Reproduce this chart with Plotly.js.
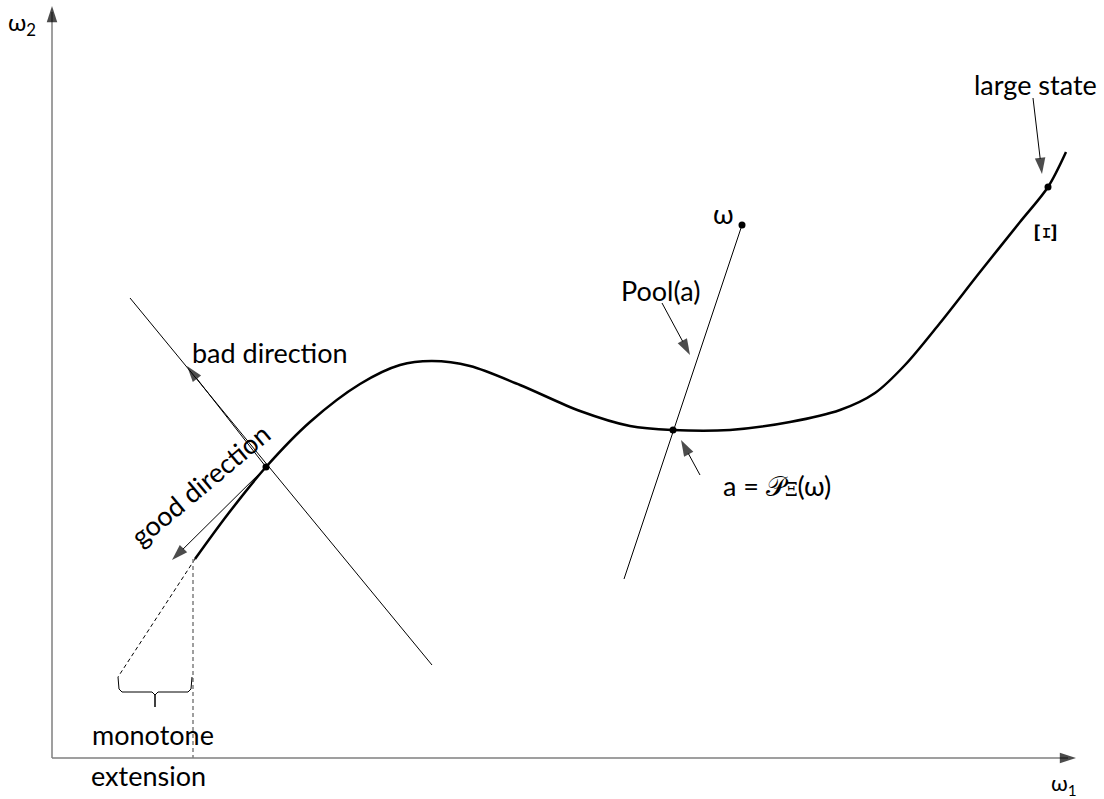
<!DOCTYPE html>
<html><head><meta charset="utf-8">
<script src="https://cdn.plot.ly/plotly-3.0.1.min.js"></script>
<style>html,body{margin:0;padding:0;background:#fff}#plot{width:1104px;height:799px}</style>
</head><body><div id="plot"></div>
<script>
// Diagram geometry (coordinates in the diagram's own frame, 0..1104 x 0..799, y downward)
const curveX = [195,228,266,310,360,400,432,470,520,580,630,672,730,790,840,875,905,940,980,1020,1048,1066];
const curveY = [559,514,467,422,384,365,361,366,385,411,426,430,430,422,410,393,365,323,272,222,187,152];
const normalX = [130,432];
const normalY = [298,665];
const poolX = [624,742];
const poolY = [579,225];
const extX = [195,118];
const extY = [559,677];
const dropX = [193,193];
const dropY = [559,758];
const braceX = [118,119,122,152,155,158,188,191,192];
const braceY = [677,689,692,692,695,692,692,689,677];
const braceTickX = [155,155];
const braceTickY = [695,707];
const axisYX = [52,52];
const axisYY = [758,12];
const axisXX = [52,1068];
const axisXY = [758,758];
const dotX = [266,673,742,1048];
const dotY = [467,430,225,187];

const labels = [
  {t:'ω<sub>2</sub>', x:22, y:23, s:24},
  {t:'ω<sub>1</sub>', x:1064, y:784, s:22},
  {t:'large state', x:1035, y:84, s:27},
  {t:'ω', x:723, y:213, s:27},
  {t:'Pool(a)', x:660, y:290, s:27},
  {t:'bad direction', x:270, y:352, s:27},
  {t:'monotone', x:153, y:734, s:27},
  {t:'extension', x:148, y:775, s:27},
  {t:'a = <span style="font-family:DejaVu Serif">𝒫</span><span style="font-family:DejaVu Serif;font-size:18px">Ξ</span>(ω)', x:777, y:485, s:27}
];
// arrows: [tailX, tailY, tipX, tipY]
const arrows = [
  [266,467,187,366],
  [266,467,172,560],
  [662,303,690,355],
  [700,475,681,440],
  [1033,98,1042,174],
  [52,40,52,6],
  [1045,758,1076,758]
];

const thin = {color:'#000', width:1};
const traces = [
  {x:axisYX, y:axisYY, mode:'lines', line:{color:'#7f7f7f', width:1.5}},
  {x:axisXX, y:axisXY, mode:'lines', line:{color:'#7f7f7f', width:1.5}},
  {x:normalX, y:normalY, mode:'lines', line:thin},
  {x:poolX, y:poolY, mode:'lines', line:thin},
  {x:extX, y:extY, mode:'lines', line:{color:'#000', width:1, dash:'4px,3px'}},
  {x:dropX, y:dropY, mode:'lines', line:{color:'#7f7f7f', width:1.5, dash:'4px,3px'}},
  {x:braceX, y:braceY, mode:'lines', line:{color:'#000', width:1}},
  {x:braceTickX, y:braceTickY, mode:'lines', line:{color:'#000', width:1.5}},
  {x:curveX, y:curveY, mode:'lines', line:{color:'#000', width:2.5, shape:'spline', smoothing:0.9}},
  {x:dotX, y:dotY, mode:'markers', marker:{color:'#000', size:7}}
];
arrows.forEach((a, i) => {
  const isAxis = i >= 5;
  traces.push({
    x:[a[0], a[2]], y:[a[1], a[3]], mode:'lines+markers',
    line:{color: isAxis ? 'rgba(0,0,0,0)' : '#000', width:1},
    marker:{symbol:['circle','arrow'], size:[0, 17], color:'#000', angleref:'previous', line:{width:0}}
  });
});

const annotations = labels.map(l => ({
  x:l.x, y:l.y, xref:'x', yref:'y', text:l.t, showarrow:false,
  font:{family:'Lato, Carlito, sans-serif', size:l.s, color:'#000'}
}));
annotations.push({x:200, y:484, xref:'x', yref:'y', text:'good direction', showarrow:false,
  textangle:-40, font:{family:'Lato, Carlito, sans-serif', size:27, color:'#000'}});
annotations.push({x:1045, y:233, xref:'x', yref:'y', text:'Ξ', showarrow:false,
  textangle:90, font:{family:'DejaVu Serif, serif', size:28, color:'#000'}});

const layout = {
  width:1104, height:799, margin:{l:0,r:0,t:0,b:0},
  paper_bgcolor:'#fff', plot_bgcolor:'#fff', showlegend:false,
  xaxis:{range:[0,1104], visible:false, fixedrange:true},
  yaxis:{range:[799,0], visible:false, fixedrange:true},
  annotations:annotations
};
Plotly.newPlot('plot', traces, layout, {displayModeBar:false, staticPlot:true});
</script></body></html>
